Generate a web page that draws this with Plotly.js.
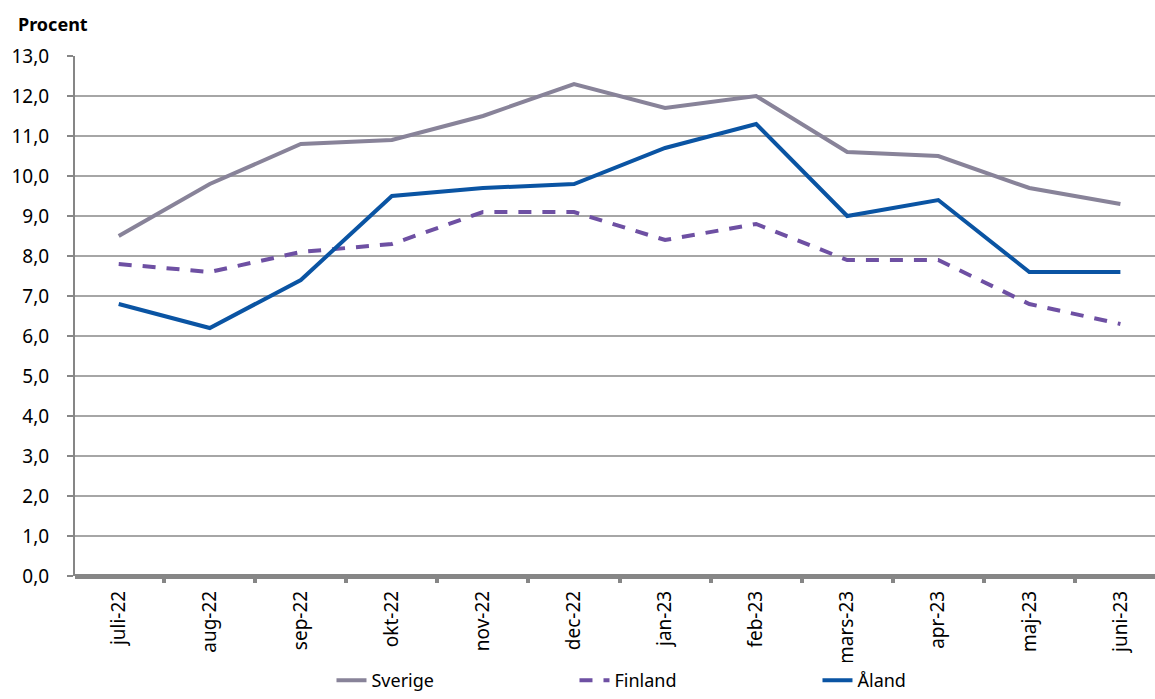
<!DOCTYPE html>
<html>
<head>
<meta charset="utf-8">
<script src="https://cdn.plot.ly/plotly-3.0.1.min.js"></script>
<style>
  body { margin: 0; background: #fff; }
  #chart { width: 1155px; height: 699px; }
</style>
</head>
<body>
<div id="chart"></div>
<script>
"use strict";

const months = ["juli-22", "aug-22", "sep-22", "okt-22", "nov-22", "dec-22",
    "jan-23", "feb-23", "mars-23", "apr-23", "maj-23", "juni-23"];
const sverige = [8.5, 9.8, 10.8, 10.9, 11.5, 12.3, 11.7, 12.0, 10.6, 10.5, 9.7, 9.3];
const finland = [7.8, 7.6, 8.1, 8.3, 9.1, 9.1, 8.4, 8.8, 7.9, 7.9, 6.8, 6.3];
const aland = [6.8, 6.2, 7.4, 9.5, 9.7, 9.8, 10.7, 11.3, 9.0, 9.4, 7.6, 7.6];

const font = "Noto Sans, Open Sans, sans-serif";

var traces = [
    {
        x: months, y: sverige, name: "Sverige", type: "scatter", mode: "lines",
        line: { color: "#888399", width: 4 }
    },
    {
        x: months, y: finland, name: "Finland", type: "scatter", mode: "lines",
        line: { color: "#6e50a3", width: 4, dash: "13px,11px" }
    },
    {
        x: months, y: aland, name: "Åland", type: "scatter", mode: "lines",
        line: { color: "#0a54a3", width: 4 }
    }
];

var layout = {
    width: 1155,
    height: 699,
    margin: { l: 75, r: 0, t: 56, b: 123 },
    paper_bgcolor: "#ffffff",
    plot_bgcolor: "#ffffff",
    separators: ", ",
    font: { family: font, size: 19, color: "#000000" },
    showlegend: true,
    legend: {
        orientation: "h",
        xref: "container", yref: "container",
        x: 0.287, y: 0.0, xanchor: "left", yanchor: "bottom",
        entrywidth: 198, entrywidthmode: "pixels",
        font: { family: font, size: 18, color: "#000000" },
        itemwidth: 30,
        tracegroupgap: 0
    },
    xaxis: {
        type: "category",
        range: [-0.48, 11.38],
        tickangle: -90,
        ticks: "outside",
        tickson: "boundaries",
        ticklen: 6,
        tickwidth: 4,
        tickcolor: "#868686",
        ticklabelstandoff: 10,
        showgrid: false,
        showline: false,
        zeroline: false,
        tickfont: { family: font, size: 19 },
        fixedrange: true
    },
    yaxis: {
        range: [0, 13],
        dtick: 1,
        tickformat: ".1f",
        ticks: "outside",
        ticklen: 6,
        tickwidth: 1.5,
        tickcolor: "#868686",
        ticklabelstandoff: 14,
        showline: true,
        linecolor: "#868686",
        linewidth: 2,
        gridcolor: "#a6a6a6",
        gridwidth: 1.5,
        zeroline: true,
        zerolinecolor: "#868686",
        zerolinewidth: 5,
        tickfont: { family: font, size: 19 },
        fixedrange: true
    },
    annotations: [
        {
            text: "<b>Procent</b>", xref: "paper", yref: "paper",
            x: -0.055, y: 1.035, xanchor: "left", yanchor: "bottom",
            showarrow: false, font: { family: font, size: 18, color: "#000000" }
        }
    ]
};

Plotly.newPlot("chart", traces, layout, { displayModeBar: false, staticPlot: true });
</script>
</body>
</html>
